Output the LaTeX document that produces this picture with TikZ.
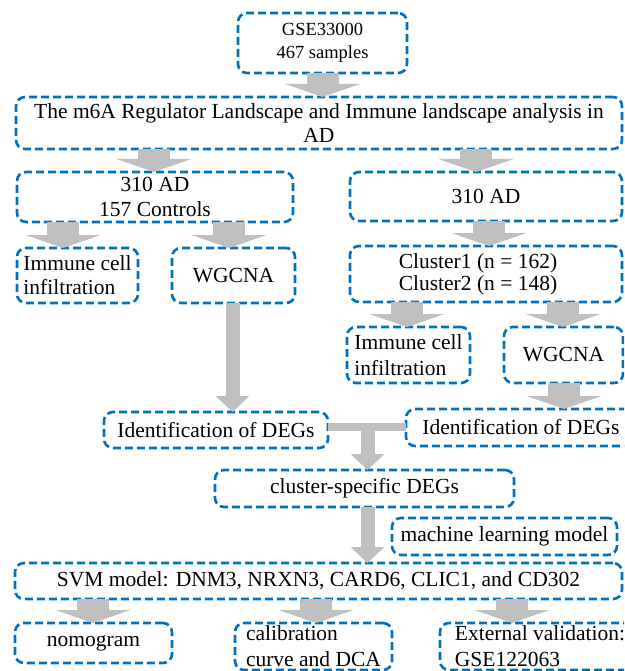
\documentclass[tikz,border=0pt]{standalone}
\usepackage{fontspec}
\setmainfont{Liberation Serif}
\usetikzlibrary{arrows.meta}
\definecolor{bblue}{RGB}{0,112,192}
\definecolor{agray}{RGB}{191,191,191}
\newcommand\mybox[7][]{%
  \pgfmathsetmacro\bxw{#4-#2}\pgfmathsetmacro\bxh{#5-#3}%
  \pgfmathsetmacro\bxx{(#2+#4)/2}\pgfmathsetmacro\bxy{(#3+#5)/2}%
  \node[box,minimum width=\bxw pt,minimum height=\bxh pt,#1] (#6) at (\bxx,\bxy) {#7};}
\begin{document}
\begin{tikzpicture}[x=1pt,y=-1pt,
  box/.style={draw=bblue, line width=2.6pt, dash pattern=on 8pt off 4pt,
    rounded corners=9pt, inner sep=0pt, outer sep=0pt, align=center,
    font=\fontsize{21.5}{24}\selectfont},
  garrow/.style n args={3}{agray, line width=#1,
    -{Triangle[width=#2, length=#3, line width=0pt]}},
  bigarrow/.style={garrow={32pt}{75pt}{13pt}},
  thinarrow/.style={garrow={14pt}{34pt}{16pt}}]
\useasboundingbox (0,0) rectangle (624,671);
\clip (0,0) rectangle (624,671);

% column coordinates
\coordinate (c1) at (322.5,0);
\coordinate (c2) at (154,0);
\coordinate (c3) at (476,0);
\coordinate (c4) at (63,0);
\coordinate (c5) at (229,0);
\coordinate (c6) at (489,0);
\coordinate (c7) at (407,0);
\coordinate (c8) at (563,0);
\coordinate (c9) at (232.5,0);
\coordinate (c10) at (564,0);
\coordinate (tj) at (367.5,427);
\coordinate (c13) at (93,0);
\coordinate (c14) at (316,0);
\coordinate (c15) at (512,0);

% boxes
\mybox[font=\fontsize{18.5}{23}\selectfont]{238}{13}{407}{73}{gse}{GSE33000\\467 samples}
\mybox{16}{97}{622}{149}{main}{The m6A Regulator Landscape and Immune landscape analysis in\\AD}
\mybox[font=\fontsize{21.5}{25}\selectfont]{17}{172}{293}{222}{ctl}{310 AD\\157 Controls}
\mybox{350}{172}{622}{221}{rad}{310 AD}
\mybox[align=left]{17}{248}{138}{303}{imml}{Immune cell\\infiltration}
\mybox{172}{248}{295}{303}{wgl}{WGCNA}
\mybox[font=\fontsize{21.5}{22}\selectfont]{350}{246}{622}{302}{clu}{\hspace*{-16pt}Cluster1 (n = 162)\\\hspace*{-16pt}Cluster2 (n = 148)}
\mybox[align=left, font=\fontsize{21.5}{26}\selectfont]{347}{327}{470}{383}{immr}{Immune cell\\infiltration}
\mybox{504}{327}{623}{383}{wgr}{WGCNA}
\mybox{104}{412}{328}{448}{degl}{Identification of DEGs}
\mybox{406}{409}{636}{446}{degr}{Identification of DEGs}
\mybox{215}{470}{514}{507}{cs}{cluster-specific DEGs}
\mybox{392}{518}{617}{555}{ml}{machine learning model}
\mybox{15}{563}{622}{599}{svm}{SVM model: DNM3, NRXN3, CARD6, CLIC1, and CD302}
\mybox{15}{623}{172}{663}{nomo}{nomogram}
\mybox[align=left, font=\fontsize{21.5}{26}\selectfont]{235}{623}{392}{670}{cal}{calibration\\curve and DCA}
\mybox[align=left, font=\fontsize{21.5}{26}\selectfont]{440}{623}{640}{670}{ext}{External validation:\\GSE122063}

% arrows
\draw[bigarrow] (gse.south -| c1) -- (main.north -| c1);
\draw[bigarrow] (main.south -| c2) -- (ctl.north -| c2);
\draw[bigarrow] (main.south -| c3) -- (rad.north -| c3);
\draw[bigarrow] (ctl.south -| c4) -- (imml.north -| c4);
\draw[bigarrow] (ctl.south -| c5) -- (wgl.north -| c5);
\draw[bigarrow] (rad.south -| c6) -- (clu.north -| c6);
\draw[bigarrow] (clu.south -| c7) -- (immr.north -| c7);
\draw[bigarrow] (clu.south -| c8) -- (wgr.north -| c8);
\draw[thinarrow] (wgl.south -| c9) -- (degl.north -| c9);
\draw[bigarrow] (wgr.south -| c10) -- (degr.north -| c10);
\draw[agray, line width=8pt] (degl.east |- tj) -- (degr.west |- tj);
\draw[thinarrow] ([yshift=4pt]tj) -- (cs.north -| tj);
\draw[thinarrow] (cs.south -| tj) -- (svm.north -| tj);
\draw[bigarrow] (svm.south -| c13) -- (nomo.north -| c13);
\draw[bigarrow] (svm.south -| c14) -- (cal.north -| c14);
\draw[bigarrow] (svm.south -| c15) -- (ext.north -| c15);
\end{tikzpicture}
\end{document}
